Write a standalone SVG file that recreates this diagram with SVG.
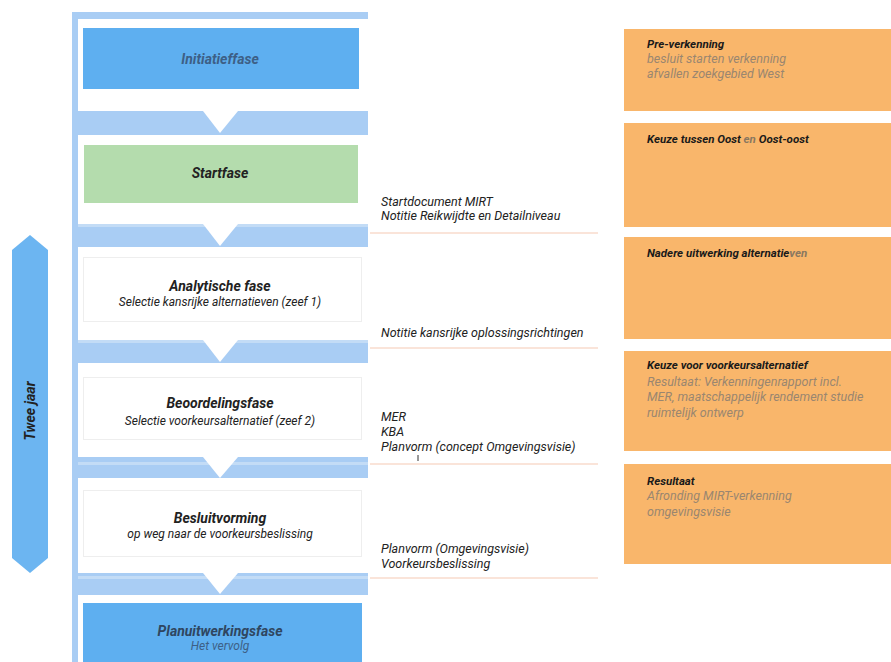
<svg xmlns="http://www.w3.org/2000/svg" width="891" height="662" viewBox="0 0 891 662">
<style>
.band{fill:#a9cdf4}
.stripe{fill:#c3dcf6}
.arr{fill:#ffffff}
.wbox{fill:#ffffff;stroke:#eeeeee;stroke-width:1}
.t{font-family:Roboto,"Liberation Sans",sans-serif;font-style:italic;font-weight:bold;font-size:14px;fill:#222;text-anchor:middle}
.s{font-family:Roboto,"Liberation Sans",sans-serif;font-style:italic;font-size:12px;fill:#222;text-anchor:middle}
.doc{font-family:Roboto,"Liberation Sans",sans-serif;font-style:italic;font-size:12.5px;fill:#222}
.ob{fill:#f9b66b}
.ot{font-family:Roboto,"Liberation Sans",sans-serif;font-style:italic;font-weight:bold;font-size:11.5px;fill:#1a1a1a}
.os{font-family:Roboto,"Liberation Sans",sans-serif;font-style:italic;font-size:12.5px;fill:#9a8670}
.ol{stroke:#f5c9b3;stroke-width:1}
</style>
<rect width="891" height="662" fill="#ffffff"/>
<g id="frame">
<rect x="72" y="12" width="296" height="7" fill="#a9cdf4"/>
<rect x="72" y="12" width="6" height="650" fill="#a9cdf4"/>
</g>
<g id="connectors">
<rect class="band" x="72" y="111" width="296" height="24"/>
<polygon class="arr" points="203,111 238,111 220,133"/>
<rect class="band" x="72" y="224" width="296" height="23"/>
<rect class="stripe" x="78" y="224" width="290" height="3"/>
<polygon class="arr" points="203,224 238,224 220,246"/>
<rect class="band" x="72" y="340" width="296" height="23"/>
<rect class="stripe" x="78" y="340" width="290" height="3"/>
<polygon class="arr" points="203,340 238,340 220,362"/>
<rect class="band" x="72" y="457" width="296" height="21"/>
<rect class="stripe" x="78" y="462" width="290" height="3"/>
<polygon class="arr" points="203,457 238,457 220,478"/>
<rect class="band" x="72" y="573" width="296" height="22"/>
<rect class="stripe" x="78" y="576" width="290" height="3"/>
<polygon class="arr" points="203,573 238,573 220,594"/>
<line class="ol" x1="370" y1="233" x2="598" y2="233"/>
<line class="ol" x1="370" y1="348" x2="598" y2="348"/>
<line class="ol" x1="370" y1="464" x2="598" y2="464"/>
<line class="ol" x1="370" y1="578" x2="598" y2="578"/>
<line x1="418" y1="455" x2="418" y2="461" stroke="#333" stroke-width="1"/>
</g>
<g id="initiatiefase">
<rect x="83" y="28" width="276" height="61" fill="#5eaff0"/>
<text class="t" x="220" y="64" style="fill:#3d5f86">Initiatieffase</text>
</g>
<g id="startfase">
<rect x="84" y="145" width="274" height="58" fill="#b4dcad"/>
<text class="t" x="220" y="178">Startfase</text>
</g>
<g id="analytische">
<rect class="wbox" x="83.5" y="257.5" width="278" height="64"/>
<text class="t" x="220" y="291">Analytische fase</text>
<text class="s" x="220" y="306">Selectie kansrijke alternatieven (zeef 1)</text>
</g>
<g id="beoordelingsfase">
<rect class="wbox" x="83.5" y="377.5" width="278" height="62"/>
<text class="t" x="220" y="408">Beoordelingsfase</text>
<text class="s" x="220" y="425">Selectie voorkeursalternatief (zeef 2)</text>
</g>
<g id="besluitvorming">
<rect class="wbox" x="83.5" y="490.5" width="278" height="66"/>
<text class="t" x="220" y="523">Besluitvorming</text>
<text class="s" x="220" y="538">op weg naar de voorkeursbeslissing</text>
</g>
<g id="planuitwerkingsfase">
<rect x="83" y="603" width="279" height="59" fill="#5eaff0"/>
<text class="t" x="220" y="636" style="fill:#2f4660">Planuitwerkingsfase</text>
<text class="s" x="220" y="650" style="fill:#3d5f86">Het vervolg</text>
</g>
<g id="documents">
<text class="doc" x="381" y="206">Startdocument MIRT</text>
<text class="doc" x="381" y="220">Notitie Reikwijdte en Detailniveau</text>
<text class="doc" x="381" y="337">Notitie kansrijke oplossingsrichtingen</text>
<text class="doc" x="381" y="421">MER</text>
<text class="doc" x="381" y="436">KBA</text>
<text class="doc" x="381" y="451">Planvorm (concept Omgevingsvisie)</text>
<text class="doc" x="381" y="553">Planvorm (Omgevingsvisie)</text>
<text class="doc" x="381" y="568">Voorkeursbeslissing</text>
</g>
<g id="twee-jaar">
<polygon points="30,235 48,250 48,558 30,573 12,558 12,250" fill="#6cb5f1"/>
<text class="t" x="0" y="0" transform="translate(35,411) rotate(-90)">Twee jaar</text>
</g>
<g id="pre-verkenning">
<rect class="ob" x="624" y="29" width="267" height="82"/>
<text class="ot" x="647" y="48">Pre-verkenning</text>
<text class="os" x="647" y="63">besluit starten verkenning</text>
<text class="os" x="647" y="78">afvallen zoekgebied West</text>
</g>
<g id="keuze-oost">
<rect class="ob" x="624" y="123" width="267" height="104"/>
<text class="ot" x="647" y="143">Keuze tussen Oost <tspan style="fill:#8a7860">en</tspan> Oost-oost</text>
</g>
<g id="nadere-uitwerking">
<rect class="ob" x="624" y="237" width="267" height="102"/>
<text class="ot" x="647" y="257">Nadere uitwerking alternatie<tspan style="fill:#8a7860">ven</tspan></text>
</g>
<g id="keuze-voorkeur">
<rect class="ob" x="624" y="351" width="267" height="100"/>
<text class="ot" x="647" y="369">Keuze voor voorkeursalternatief</text>
<text class="os" x="647" y="386">Resultaat: Verkenningenrapport incl.</text>
<text class="os" x="647" y="401">MER, maatschappelijk rendement studie</text>
<text class="os" x="647" y="417">ruimtelijk ontwerp</text>
</g>
<g id="resultaat">
<rect class="ob" x="624" y="464" width="267" height="100"/>
<text class="ot" x="647" y="485">Resultaat</text>
<text class="os" x="647" y="500">Afronding MIRT-verkenning</text>
<text class="os" x="647" y="516">omgevingsvisie</text>
</g>
</svg>
